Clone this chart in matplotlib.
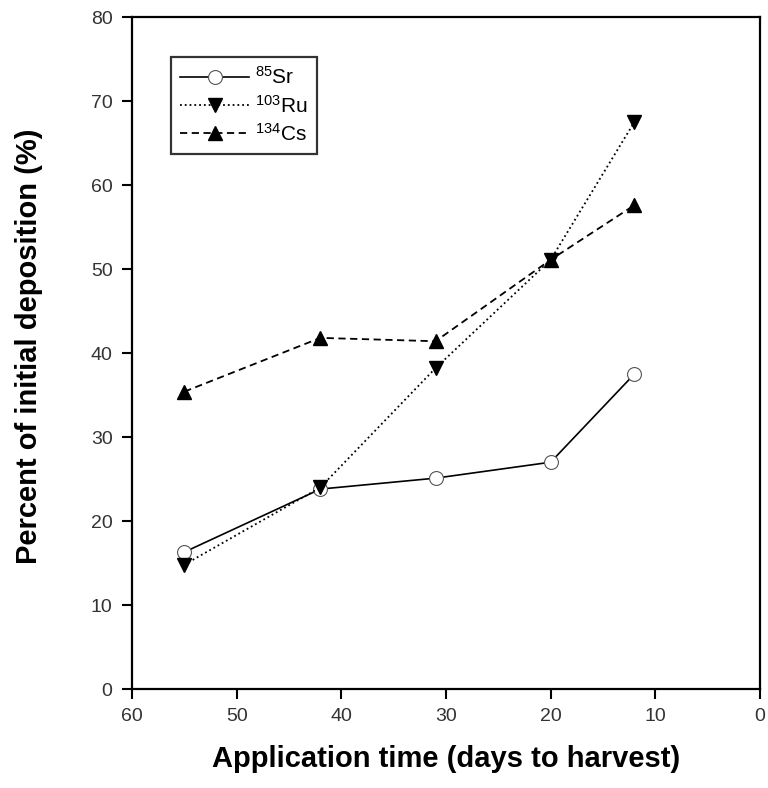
import matplotlib
matplotlib.use("Agg")
import matplotlib.pyplot as plt

plt.rcParams['font.family'] = ['Liberation Sans', 'DejaVu Sans']
plt.rcParams['mathtext.fontset'] = 'custom'
plt.rcParams['mathtext.rm'] = 'Liberation Sans'
plt.rcParams['mathtext.it'] = 'Liberation Sans'

days = [55, 42, 31, 20, 12]
sr85 = [16.3, 23.8, 25.1, 27.0, 37.5]
ru103 = [14.8, 24.0, 38.2, 51.1, 67.5]
cs134 = [35.4, 41.8, 41.4, 51.1, 57.6]
labels = [r'$^{85}$Sr', r'$^{103}$Ru', r'$^{134}$Cs']
xticks = [60, 50, 40, 30, 20, 10, 0]
yticks = [0, 10, 20, 30, 40, 50, 60, 70, 80]

fig = plt.figure(figsize=(7.68, 7.88), dpi=100)
ax = fig.add_axes([132/768, 99/788, 628/768, 672/788])

ax.plot(days, sr85, color='black', linestyle='-', linewidth=1.2, marker='o',
        markersize=10, markerfacecolor='white', markeredgecolor='#555555',
        markeredgewidth=0.8, label=labels[0], zorder=3)
ax.plot(days, ru103, color='black', linestyle=':', linewidth=1.3, marker='v',
        markersize=10, markerfacecolor='black', markeredgecolor='black',
        label=labels[1], zorder=3)
ax.plot(days, cs134, color='black', linestyle=(0, (4, 2.5)), linewidth=1.3, marker='^',
        markersize=10, markerfacecolor='black', markeredgecolor='black',
        label=labels[2], zorder=3)

ax.set_xlim(60, 0)
ax.set_ylim(0, 80)
ax.set_xticks(xticks)
ax.set_yticks(yticks)
ax.tick_params(axis='both', direction='out', length=7, width=1.5,
               labelsize=14, labelcolor='#333333', pad=7)
for s in ax.spines.values():
    s.set_linewidth(1.6)

ax.set_xlabel('Application time (days to harvest)', fontsize=21,
              fontweight='bold', labelpad=14)
ax.set_ylabel('Percent of initial deposition (%)', fontsize=21,
              fontweight='bold', labelpad=34)
ax.yaxis.label.set_y(0.51)

leg = ax.legend(loc='upper left', bbox_to_anchor=(39/628, 1 - 40/672),
                fontsize=15, frameon=True, fancybox=False, edgecolor='black',
                handlelength=3.3, borderpad=0.45, labelspacing=0.3,
                handletextpad=0.3, borderaxespad=0)
leg.get_frame().set_linewidth(1.6)

fig.savefig('out.png', dpi=100)
